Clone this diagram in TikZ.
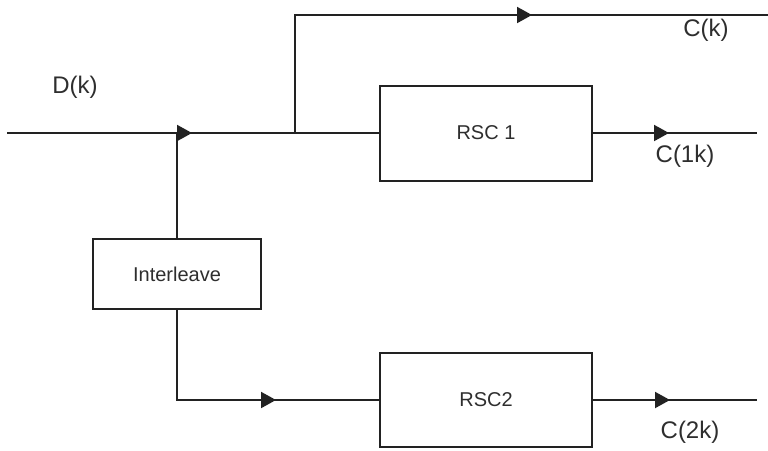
\documentclass[tikz,border=0pt]{standalone}
\usepackage{fontspec}
\setmainfont{Liberation Sans}
\usetikzlibrary{arrows.meta,decorations.markings}
\definecolor{ink}{HTML}{222222}
\definecolor{txt}{HTML}{2E2E2E}
\begin{document}
\begin{tikzpicture}[x=1pt,y=-1pt,line width=2pt,
  block/.style={draw=ink,inner sep=0pt,text=txt,font=\fontsize{20}{24}\selectfont},
  lbl/.style={text=txt,inner sep=0pt,font=\fontsize{24}{28}\selectfont},
  wire/.style={draw=ink},
  arrowat/.style={postaction=decorate,decoration={markings,
    mark=at position #1 with {\arrow[ink]{Triangle[length=15pt,width=16pt]}}}}]
\useasboundingbox (0,0) rectangle (768,450);

% blocks
\node[block,minimum width=212pt,minimum height=95pt] (rsc1) at (486,133) {RSC 1};
\node[block,minimum width=168pt,minimum height=70pt] (inter) at (177,274) {Interleave};
\node[block,minimum width=212pt,minimum height=94pt] (rsc2) at (486,400) {RSC2};

% junctions and free ends
\coordinate (in) at (7,133);
\coordinate (j1) at (177,133);
\coordinate (j2) at (295,133);
\coordinate (tl) at (295,15);
\coordinate (ck) at (768,15);
\coordinate (o1) at (757,133);
\coordinate (o2) at (757,400);

% wires
\draw[wire,arrowat=185pt] (in) -- (rsc1.west);
\draw[wire,arrowat=355pt] (j2) -- (tl) -- (ck);
\draw[wire,arrowat=76pt] (rsc1.east) -- (o1);
\draw[wire] (j1) -- (inter.north);
\draw[wire,arrowat=189pt] (inter.south) |- (rsc2.west);
\draw[wire,arrowat=77pt] (rsc2.east) -- (o2);

% labels
\node[lbl] (dk) at (75,87) {D(k)};
\node[lbl] (ckl) at (706,30) {C(k)};
\node[lbl] (c1k) at (685,156) {C(1k)};
\node[lbl] (c2k) at (690,432) {C(2k)};
\end{tikzpicture}
\end{document}
